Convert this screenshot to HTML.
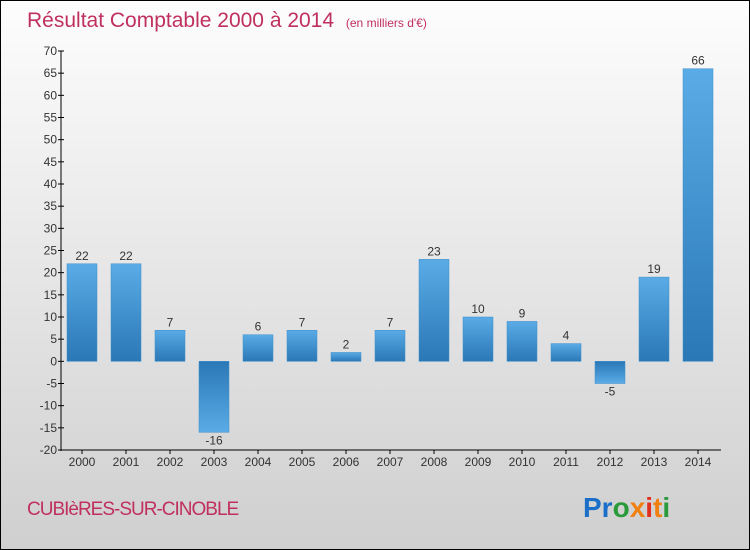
<!DOCTYPE html>
<html><head><meta charset="utf-8"><style>
body{margin:0;}
#wrap{width:748px;height:548px;border:1px solid #000;background:linear-gradient(#fdfdfd,#cfcfcf);position:relative;font-family:"Liberation Sans",sans-serif;overflow:hidden}
</style></head><body>
<div id="wrap">
<svg id="chart" width="748" height="548">
<defs>
<linearGradient id="gpos" x1="0" y1="0" x2="0" y2="1"><stop offset="0" stop-color="#5aabe6"/><stop offset="1" stop-color="#2a78b6"/></linearGradient>
<linearGradient id="gneg" x1="0" y1="0" x2="0" y2="1"><stop offset="0" stop-color="#2a78b6"/><stop offset="1" stop-color="#5aabe6"/></linearGradient>
</defs>
<text x="26" y="26" font-size="21" fill="#c0305e">Résultat Comptable 2000 à 2014 <tspan font-size="12" dx="6">(en milliers d'€)</tspan></text>
<text x="26" y="514" font-size="19" fill="#c0305e" letter-spacing="-1">CUBIèRES-SUR-CINOBLE</text>
<text x="582" y="516" font-size="28" font-weight="bold"><tspan fill="#1a6fc8">Pr</tspan><tspan fill="#2a9a3a">o</tspan><tspan fill="#f08010">x</tspan><tspan fill="#e03020">i</tspan><tspan fill="#f08010">t</tspan><tspan fill="#2a9a3a">i</tspan></text>
<g id="plot"></g>
</svg>
</div>
<script>
const categories=["2000","2001","2002","2003","2004","2005","2006","2007","2008","2009","2010","2011","2012","2013","2014"];
const values=[22,22,7,-16,6,7,2,7,23,10,9,4,-5,19,66];
const yTicks=[-20,-15,-10,-5,0,5,10,15,20,25,30,35,40,45,50,55,60,65,70];
const NS="http://www.w3.org/2000/svg";
const g=document.getElementById('plot');
const y0=449,y1=50,vmin=-20,vmax=70;
function y(v){return y0-(v-vmin)/(vmax-vmin)*(y0-y1);}
function x(i){return 81+i*44;}
function mk(t,a){const e=document.createElementNS(NS,t);for(const k in a)e.setAttribute(k,a[k]);g.appendChild(e);return e;}
let ax=mk('line',{x1:60,y1:y1,x2:60,y2:y0+1,stroke:'#000'});


let bx=mk('line',{x1:60,y1:y0,x2:720,y2:y0,stroke:'#000'});


yTicks.forEach(t=>{
 const tk=mk('line',{x1:57,y1:y(t),x2:63,y2:y(t),stroke:'#000'});
 
 
 const tl=mk('text',{x:56,y:y(t)+4,'font-size':12,'text-anchor':'end',fill:'#333'});
 tl.textContent=t;
 
 
});
categories.forEach((c,i)=>{
 const v=values[i];const cx=x(i);
 const top=v>=0?y(v):y(0),h=Math.abs(y(v)-y(0));
 const r=mk('rect',{x:cx-15,y:top,width:30,height:Math.max(h,1),fill:v>=0?'url(#gpos)':'url(#gneg)',stroke:'#3a8ccc','stroke-width':0.5});
 
 
 const l=mk('text',{x:cx,y:v>=0?y(v)-4:y(v)+12,'font-size':12,'text-anchor':'middle',fill:'#333'});
 l.textContent=v;
 
 
 const tk=mk('line',{x1:cx,y1:y0,x2:cx,y2:y0+4,stroke:'#000'});
 
 
 const xl=mk('text',{x:cx,y:y0+16,'font-size':12,'text-anchor':'middle',fill:'#333'});
 xl.textContent=c;
 
 
});
</script>
</body></html>
